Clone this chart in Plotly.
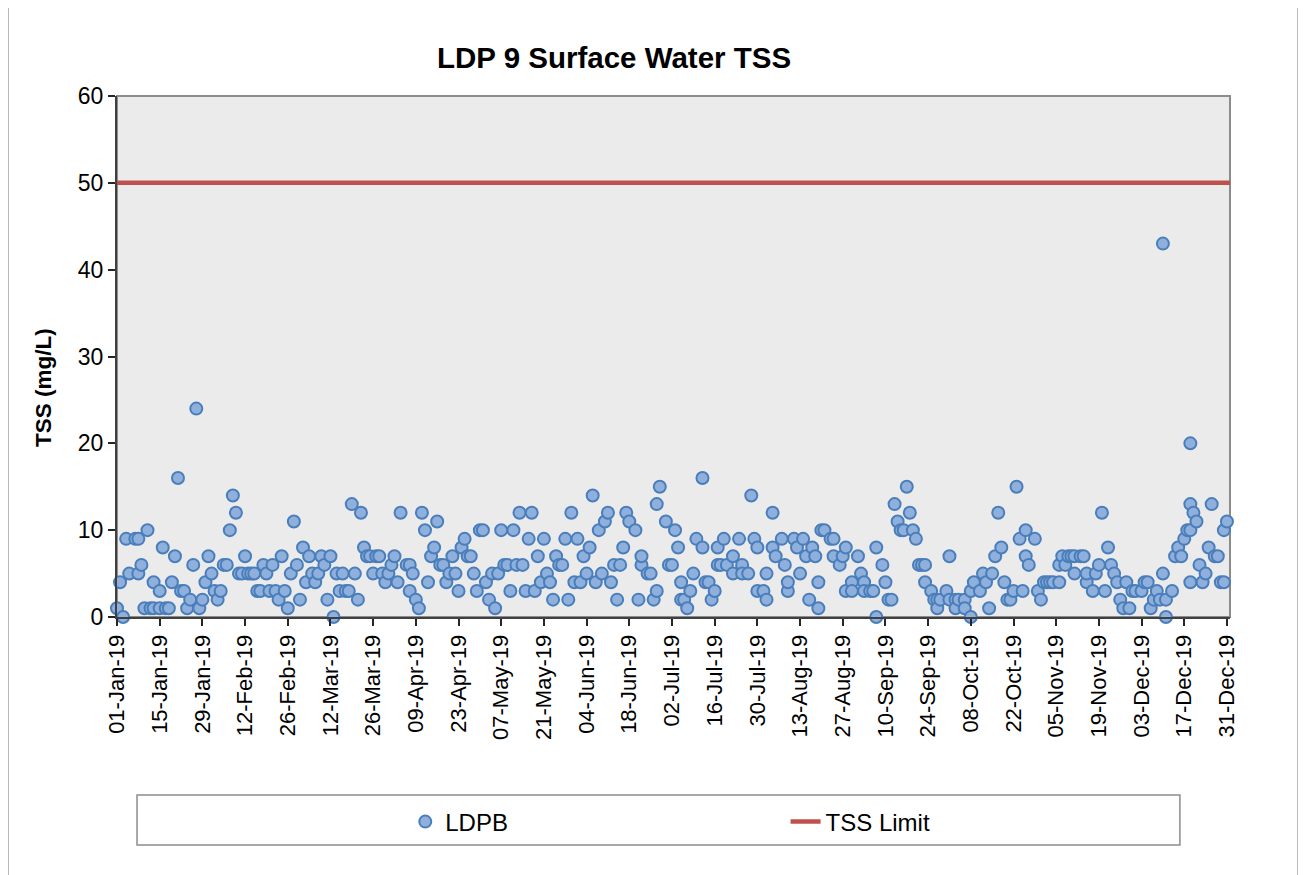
import pandas as pd
import plotly.graph_objects as go

# day of 2019 (0 = 01-Jan) for each LDPB sample
sample_day = [
    0, 1, 2, 3, 4, 6, 7, 7, 8, 9, 10, 11, 12, 12, 14, 14, 15, 16, 17, 18, 19, 20, 21, 22, 23, 24, 25, 26, 27, 28, 29, 30, 31, 32,
    33, 34, 35, 36, 37, 38, 39, 40, 41, 42, 43, 44, 45, 46, 47, 48, 49, 50, 51, 52, 53, 54, 55, 56, 57, 58, 59, 60, 61, 62, 63, 64,
    65, 66, 67, 68, 69, 70, 71, 72, 73, 74, 75, 76, 77, 78, 79, 80, 81, 82, 83, 84, 85, 86, 87, 88, 89, 90, 91, 92, 93, 95, 96, 96, 97,
    98, 99, 100, 101, 102, 103, 104, 105, 106, 107, 108, 109, 110, 111, 112, 113, 114, 115, 116, 117, 118, 119, 120, 121, 122, 123, 124, 125, 126, 127, 128, 129, 130,
    131, 132, 133, 134, 135, 136, 137, 138, 139, 140, 141, 142, 143, 144, 145, 146, 147, 148, 149, 150, 151, 152, 153, 154, 155, 156, 157, 158, 159, 160, 161, 162,
    163, 164, 165, 166, 167, 168, 170, 171, 172, 172, 174, 175, 176, 177, 177, 178, 180, 181, 182, 183, 184, 185, 185, 186, 187, 188, 189, 190, 192, 192, 193, 194, 195, 196, 197, 197,
    198, 199, 200, 202, 202, 204, 205, 205, 207, 208, 209, 210, 210, 212, 213, 213, 215, 215, 216, 218, 219, 220, 220, 222, 223, 224, 225, 226, 227, 228, 229, 230, 230, 231, 232,
    234, 235, 235, 237, 238, 239, 239, 241, 241, 243, 244, 245, 245, 247, 248, 249, 249, 251, 252, 253, 254, 255, 256, 257, 258, 259, 260, 261, 262, 263, 264, 265, 265,
    267, 268, 269, 269, 270, 272, 273, 273, 275, 275, 276, 278, 278, 280, 280, 281, 283, 284, 285, 286, 287, 288, 289, 290, 291, 292, 293, 294, 295, 296, 297, 298, 298, 299, 301,
    302, 303, 304, 305, 306, 307, 309, 309, 310, 311, 312, 313, 314, 314, 316, 317, 318, 318, 320, 321, 322, 323, 324, 325, 326, 327, 328, 329, 330, 331, 332, 333, 334,
    336, 337, 338, 339, 340, 341, 342, 343, 343, 344, 344, 346, 347, 348, 349, 350, 351, 352, 352, 352, 352, 353, 354, 355, 356, 357, 358, 359, 360, 361, 362, 363, 363, 364,
]

# TSS (mg/L) for each sample
tss_mg_l = [
    1, 4, 0, 9, 5, 9, 9, 5, 6, 1, 10, 1, 1, 4, 1, 3, 8, 1, 1, 4, 7, 16, 3, 3, 1, 2, 6, 24, 1, 2, 4, 7, 5, 3,
    2, 3, 6, 6, 10, 14, 12, 5, 5, 7, 5, 5, 5, 3, 3, 6, 5, 3, 6, 3, 2, 7, 3, 1, 5, 11, 6, 2, 8, 4, 7, 5,
    4, 5, 7, 6, 2, 7, 0, 5, 3, 5, 3, 3, 13, 5, 2, 12, 8, 7, 7, 5, 7, 7, 5, 4, 5, 6, 7, 4, 12, 6, 6, 3, 5,
    2, 1, 12, 10, 4, 7, 8, 11, 6, 6, 4, 5, 7, 5, 3, 8, 9, 7, 7, 5, 3, 10, 10, 4, 2, 5, 1, 5, 10, 6, 6, 3, 10,
    6, 12, 6, 3, 9, 12, 3, 7, 4, 9, 5, 4, 2, 7, 6, 6, 9, 2, 12, 4, 9, 4, 7, 5, 8, 14, 4, 10, 5, 11, 12, 4,
    6, 2, 6, 8, 12, 11, 10, 2, 6, 7, 5, 5, 2, 3, 13, 15, 11, 6, 6, 10, 8, 4, 2, 2, 1, 3, 5, 9, 8, 16, 4, 4, 2, 3, 6, 8,
    6, 9, 6, 7, 5, 9, 6, 5, 5, 14, 9, 8, 3, 3, 2, 5, 12, 8, 7, 9, 6, 3, 4, 9, 8, 5, 9, 7, 2, 8, 7, 4, 1, 10, 10,
    9, 9, 7, 6, 7, 8, 3, 4, 3, 7, 5, 4, 3, 3, 3, 0, 8, 6, 4, 2, 2, 13, 11, 10, 10, 15, 12, 10, 9, 6, 6, 6, 4,
    3, 2, 2, 1, 2, 3, 7, 2, 2, 1, 2, 2, 1, 0, 3, 4, 3, 5, 4, 1, 5, 7, 12, 8, 4, 2, 2, 3, 15, 9, 3, 10, 7, 6, 9,
    3, 2, 4, 4, 4, 4, 4, 6, 7, 6, 7, 7, 5, 7, 7, 7, 4, 5, 3, 5, 6, 12, 3, 8, 6, 5, 4, 2, 1, 4, 1, 3, 3,
    3, 4, 4, 1, 2, 3, 2, 5, 43, 0, 2, 3, 7, 8, 7, 9, 10, 10, 4, 20, 13, 12, 11, 6, 4, 5, 8, 13, 7, 7, 4, 10, 4, 11,
]

tss_limit = 50
axis_start = "2019-01-01"
axis_end = "2020-01-01"

dates = pd.Timestamp(axis_start) + pd.to_timedelta(sample_day, unit="D")

font = "Liberation Sans, Arial, sans-serif"

fig = go.Figure()
fig.add_trace(go.Scatter(
    x=dates, y=tss_mg_l, mode="markers", name="LDPB",
    marker=dict(size=12, color="#8FB0DC", line=dict(color="#4A7EBB", width=2)),
    cliponaxis=False, legend="legend",
))
fig.add_trace(go.Scatter(
    x=[axis_start, axis_end], y=[tss_limit, tss_limit], mode="lines", name="TSS Limit",
    line=dict(color="#C0504D", width=4.5), legend="legend2",
))

# chart-area border, plot-area border and legend box
fig.add_shape(type="rect", xref="paper", yref="paper", x0=-0.0979, x1=1.0611, y0=-0.5, y1=1.18,
              line=dict(color="#A6A6A6", width=1.5), layer="below")
fig.add_shape(type="rect", xref="paper", yref="paper", x0=0, x1=1, y0=0, y1=1,
              line=dict(color="#8C8C8C", width=2), layer="below")
fig.add_shape(type="rect", xref="paper", yref="paper", x0=0.018, x1=0.955, y0=-0.4376, y1=-0.3417,
              line=dict(color="#8C8C8C", width=1.5), fillcolor="white", layer="below")

fig.add_annotation(
    text="<b>TSS (mg/L)</b>", textangle=-90, xref="paper", yref="paper",
    x=-0.0656, y=0.4415, xanchor="center", yanchor="middle", showarrow=False,
    font=dict(family=font, size=22.5, color="black"),
)

# margins offset by the page's 8px body margin so the plot area lands where the reference has it
fig.update_layout(
    width=1306, height=875,
    margin=dict(l=109, r=84, t=88, b=266),
    paper_bgcolor="white", plot_bgcolor="#EBEBEB",
    title=dict(text="<b>LDP 9 Surface Water TSS</b>", x=0.4466, xref="paper", xanchor="center",
               y=1 - 50 / 875, yanchor="middle", font=dict(family=font, size=29.5, color="black")),
    legend=dict(orientation="h", x=0.259, y=-0.3935, xanchor="left", yanchor="middle",
                bgcolor="rgba(0,0,0,0)", font=dict(family=font, size=24, color="black")),
    legend2=dict(orientation="h", x=0.6007, y=-0.3935, xanchor="left", yanchor="middle",
                 bgcolor="rgba(0,0,0,0)", font=dict(family=font, size=24, color="black")),
    showlegend=True,
)
fig.update_xaxes(
    type="date", range=[axis_start, axis_end],
    tick0=axis_start, dtick=14 * 86400000, tickformat="%d-%b-%y", tickangle=-90,
    ticks="outside", ticklen=7, tickcolor="#262626", tickwidth=1.5,
    showline=True, linecolor="#404040", linewidth=2, showgrid=False, zeroline=False,
    tickfont=dict(family=font, size=22, color="black"),
)
fig.update_yaxes(
    range=[0, 60], dtick=10, ticks="outside", ticklen=7, tickcolor="#262626", tickwidth=1.5,
    showline=True, linecolor="#404040", linewidth=2, showgrid=False, zeroline=False,
    tickfont=dict(family=font, size=23, color="black"),
)

fig.write_html("out.html")
